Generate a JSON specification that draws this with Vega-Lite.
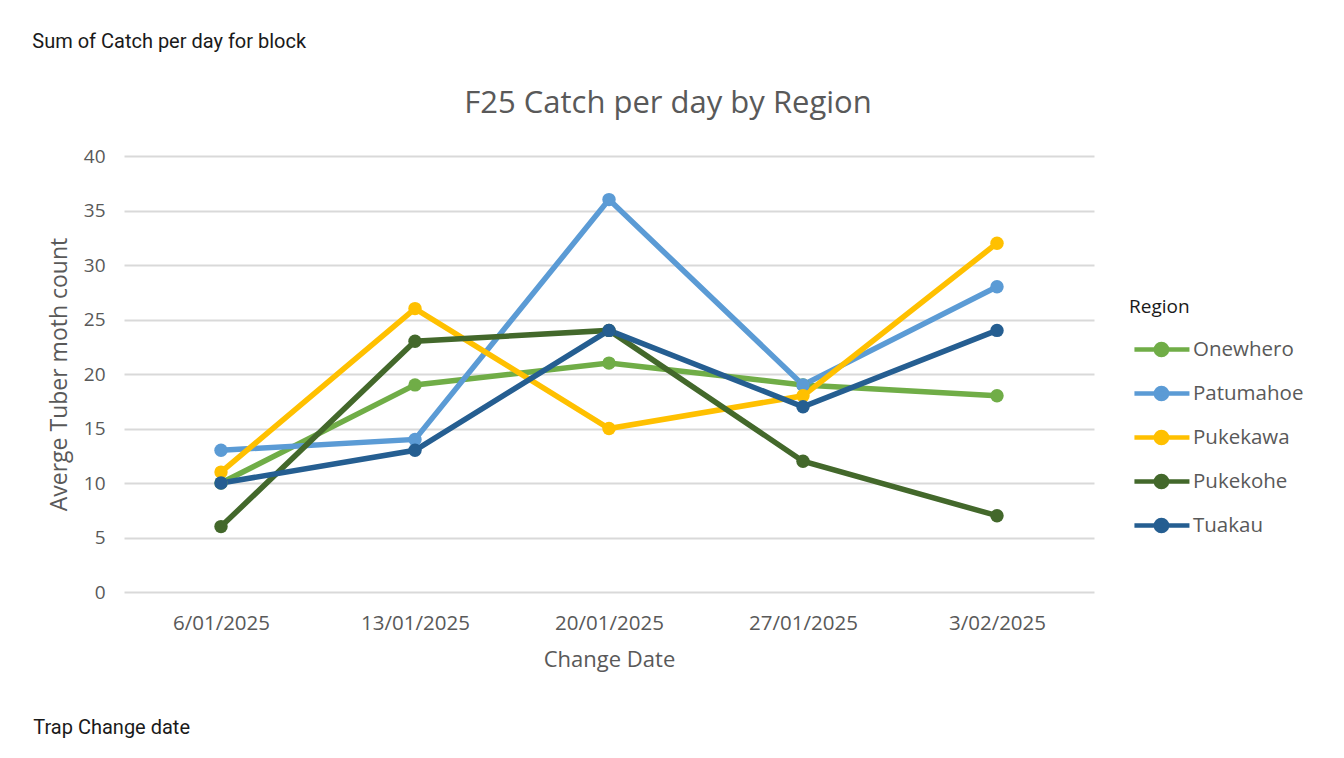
{
  "$schema": "https://vega.github.io/schema/vega-lite/v6.json",
  "background": "white",
  "padding": {"left": 32, "top": 32, "right": 5, "bottom": 5},
  "config": {
    "font": "Open Sans",
    "view": {"stroke": null},
    "concat": {"spacing": 0}
  },
  "title": {
    "text": "Trap Change date",
    "orient": "bottom",
    "anchor": "start",
    "font": "Roboto",
    "fontSize": 20,
    "fontWeight": "normal",
    "color": "#1a1a1a",
    "offset": 47,
    "dx": 1
  },
  "vconcat": [
    {
      "title": {
        "text": "Sum of Catch per day for block",
        "anchor": "start",
        "font": "Roboto",
        "fontSize": 20,
        "fontWeight": "normal",
        "color": "#1a1a1a",
        "offset": 36,
        "dx": -16
      },
      "vconcat": [
        {
          "title": {
            "text": "F25 Catch per day by Region",
            "anchor": "middle",
            "frame": "group",
            "dx": 59,
            "font": "Open Sans",
            "fontSize": 31,
            "fontWeight": "normal",
            "color": "#595959",
            "offset": 27
          },
          "width": 970,
          "height": 436,
          "data": {
            "values": [
              {"date": "6/01/2025", "region": "Onewhero", "count": 10},
              {"date": "13/01/2025", "region": "Onewhero", "count": 19},
              {"date": "20/01/2025", "region": "Onewhero", "count": 21},
              {"date": "27/01/2025", "region": "Onewhero", "count": 19},
              {"date": "3/02/2025", "region": "Onewhero", "count": 18},
              {"date": "6/01/2025", "region": "Patumahoe", "count": 13},
              {"date": "13/01/2025", "region": "Patumahoe", "count": 14},
              {"date": "20/01/2025", "region": "Patumahoe", "count": 36},
              {"date": "27/01/2025", "region": "Patumahoe", "count": 19},
              {"date": "3/02/2025", "region": "Patumahoe", "count": 28},
              {"date": "6/01/2025", "region": "Pukekawa", "count": 11},
              {"date": "13/01/2025", "region": "Pukekawa", "count": 26},
              {"date": "20/01/2025", "region": "Pukekawa", "count": 15},
              {"date": "27/01/2025", "region": "Pukekawa", "count": 18},
              {"date": "3/02/2025", "region": "Pukekawa", "count": 32},
              {"date": "6/01/2025", "region": "Pukekohe", "count": 6},
              {"date": "13/01/2025", "region": "Pukekohe", "count": 23},
              {"date": "20/01/2025", "region": "Pukekohe", "count": 24},
              {"date": "27/01/2025", "region": "Pukekohe", "count": 12},
              {"date": "3/02/2025", "region": "Pukekohe", "count": 7},
              {"date": "6/01/2025", "region": "Tuakau", "count": 10},
              {"date": "13/01/2025", "region": "Tuakau", "count": 13},
              {"date": "20/01/2025", "region": "Tuakau", "count": 24},
              {"date": "27/01/2025", "region": "Tuakau", "count": 17},
              {"date": "3/02/2025", "region": "Tuakau", "count": 24}
            ]
          },
          "encoding": {
            "x": {
              "field": "date",
              "type": "nominal",
              "sort": ["6/01/2025", "13/01/2025", "20/01/2025", "27/01/2025", "3/02/2025"],
              "scale": {"type": "point", "padding": 0.5},
              "axis": {
                "title": "Change Date",
                "titleFont": "Open Sans",
                "titleFontSize": 22,
                "titleFontWeight": "normal",
                "titleColor": "#595959",
                "titlePadding": 16,
                "labelFont": "Open Sans",
                "labelFontSize": 20.5,
                "labelColor": "#595959",
                "labelAngle": 0,
                "labelPadding": 21,
                "domain": false,
                "ticks": false,
                "grid": false
              }
            },
            "y": {
              "field": "count",
              "type": "quantitative",
              "scale": {"domain": [0, 40], "nice": false},
              "axis": {
                "title": "Averge Tuber moth count",
                "titleFont": "Open Sans",
                "titleFontSize": 23,
                "titleFontWeight": "normal",
                "titleColor": "#595959",
                "titlePadding": 12,
                "labelFont": "Open Sans",
                "labelFontSize": 19,
                "labelColor": "#595959",
                "labelPadding": 19,
                "values": [0, 5, 10, 15, 20, 25, 30, 35, 40],
                "domain": false,
                "ticks": false,
                "grid": true,
                "gridColor": "#D9D9D9",
                "gridWidth": 2
              }
            },
            "color": {
              "field": "region",
              "type": "nominal",
              "scale": {
                "domain": ["Onewhero", "Patumahoe", "Pukekawa", "Pukekohe", "Tuakau"],
                "range": ["#70AD47", "#5B9BD5", "#FFC000", "#43682B", "#255E91"]
              },
              "legend": {
                "title": "Region",
                "orient": "none",
                "legendX": 1005,
                "legendY": 142,
                "padding": 0,
                "titleFont": "Open Sans",
                "titleFontSize": 19,
                "titleFontWeight": "normal",
                "titleColor": "#1a1a1a",
                "titlePadding": 16,
                "labelFont": "Open Sans",
                "labelFontSize": 20.5,
                "labelColor": "#595959",
                "labelOffset": 31,
                "rowPadding": 12,
                "symbolType": "M-0.79,0L3.14,0M0.74,0A0.4,0.4 0 1,1 1.54,0A0.4,0.4 0 1,1 0.74,0Z",
                "symbolSize": 784,
                "symbolStrokeWidth": 4.5,
                "encode": {
                  "symbols": {
                    "update": {
                      "fill": {"scale": "color", "field": "value"},
                      "stroke": {"scale": "color", "field": "value"},
                      "opacity": {"value": 1}
                    }
                  }
                }
              }
            }
          },
          "layer": [
            {"mark": {"type": "line", "strokeWidth": 5.5}},
            {"mark": {"type": "point", "filled": true, "size": 180, "opacity": 1}}
          ]
        }
      ]
    }
  ]
}
